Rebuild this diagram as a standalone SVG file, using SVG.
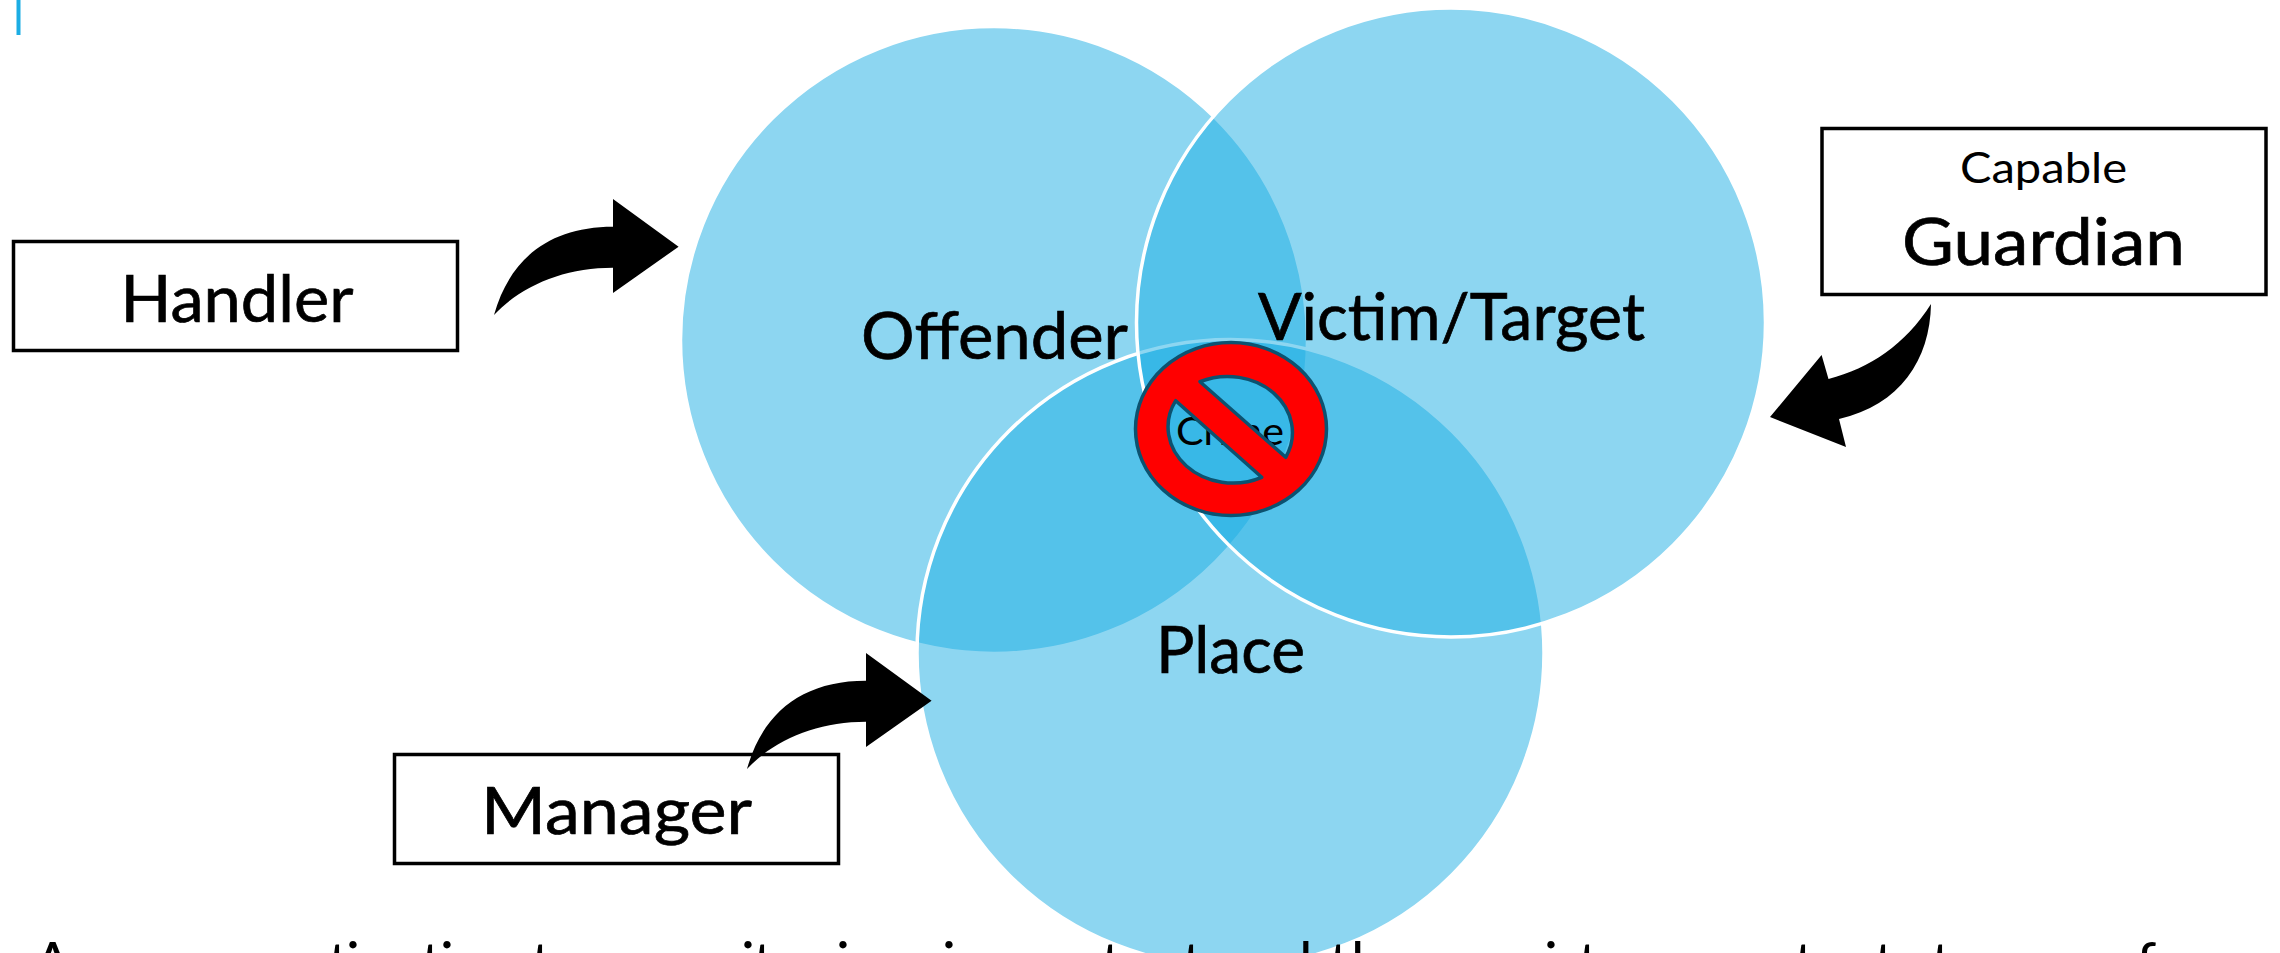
<svg xmlns="http://www.w3.org/2000/svg" width="2280" height="953" viewBox="0 0 2280 953">
<style>
text{font-family:"Lato","Liberation Sans",sans-serif;fill:#000}
.c{fill:#1CADE4;fill-opacity:.5;stroke:#fff;stroke-width:3.5}
.box{fill:#fff;stroke:#000;stroke-width:3.5}
.l{font-size:65px;stroke:#000;stroke-width:.7}
.b{font-size:58px}
</style>
<defs>
<path id="curved" d="M494 315C510 258 550 226.7 613 226.7L613 199L678.6 246.7L613 293L613 267.7C565 267.7 522 285 494 315Z" fill="#000"/>
</defs>
<rect x="16.5" y="0" width="4" height="35" fill="#1CADE4"/>
<g id="offender"><circle class="c" cx="994" cy="340" r="313.5"/></g>
<g id="place"><circle class="c" cx="1230.5" cy="653" r="313.5"/></g>
<g id="victim"><circle class="c" cx="1451" cy="322.5" r="314.5"/></g>
<g id="labels">
<text class="l" x="861" y="359" textLength="267" lengthAdjust="spacingAndGlyphs">Offender</text>
<text class="l" x="1258" y="340" textLength="387" lengthAdjust="spacingAndGlyphs">Victim/Target</text>
<text class="l" x="1156" y="673" textLength="149" lengthAdjust="spacingAndGlyphs">Place</text>
<text x="1176" y="445" font-size="39" textLength="108" lengthAdjust="spacingAndGlyphs">Crime</text>
</g>
<g id="no-symbol">
<path fill="#f00" stroke="#0C5270" stroke-width="3.5" stroke-linejoin="round" fill-rule="evenodd" d="M1231 342.5A95.5 86.5 0 1 1 1231 515.5A95.5 86.5 0 1 1 1231 342.5ZM1200 381.7L1285.7 457.3A65 56 0 0 0 1200 381.7ZM1175.7 400.7A65 56 0 0 0 1261.7 477.3Z"/>
</g>
<g id="handler"><rect class="box" x="13.5" y="241.5" width="444" height="109"/><text class="l" x="120.5" y="322" textLength="233" lengthAdjust="spacingAndGlyphs">Handler</text></g>
<g id="manager"><rect class="box" x="394.5" y="754.5" width="444" height="109"/><text class="l" x="481" y="834" textLength="271" lengthAdjust="spacingAndGlyphs">Manager</text></g>
<g id="guardian"><rect class="box" x="1822" y="128.5" width="444" height="166"/>
<text x="1960" y="183" font-size="42" textLength="167" lengthAdjust="spacingAndGlyphs">Capable</text>
<text class="l" x="1902" y="265" textLength="283" lengthAdjust="spacingAndGlyphs">Guardian</text></g>
<g id="connectors">
<use href="#curved"/>
<use href="#curved" transform="translate(253 454)"/>
<path fill="#000" d="M1931 304C1905 345 1870 368 1828.5 379L1821.6 355L1770 417L1846 447L1839 419C1900 405 1930 360 1931 304Z"/>
</g>
<g id="bottom-text">
<text class="b" y="984" x="33">A</text>
<text class="b" y="984" x="245 294 328 346 360 388 421 440 454 488">motivation</text>
<text class="b" y="984" x="531 552">to</text>
<text class="b" y="984" x="582 609 643 692 741 753">commit</text>
<text class="b" y="984" x="789 816 836 850 899">crime</text>
<text class="b" y="984" x="942 956">in</text>
<text class="b" y="984" x="1008 1035 1069 1101 1122 1152 1182">contact</text>
<text class="b" y="984" x="1217 1247 1280">and</text>
<text class="b" y="984" x="1329 1351 1383">the</text>
<text class="b" y="984" x="1490 1517 1544 1558 1578 1599 1630 1662 1689">existence</text>
<text class="b" y="984" x="1794">t</text>
<text class="b" y="984" x="1874">t</text>
<text class="b" y="984" x="1931">t</text>
<text class="b" y="984" x="2136">f</text>
</g>
</svg>
